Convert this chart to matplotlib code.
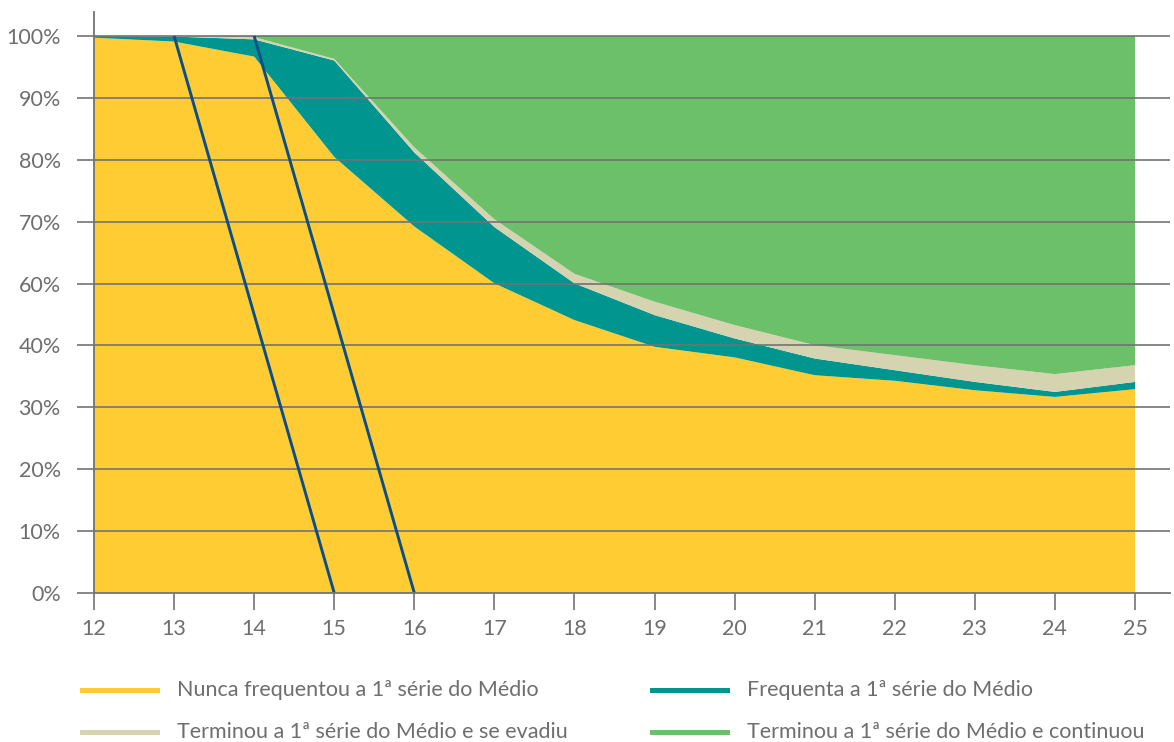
import matplotlib
matplotlib.use("Agg")
import matplotlib.pyplot as plt
from matplotlib.lines import Line2D
import numpy as np

plt.rcParams['font.family'] = ['Lato', 'DejaVu Sans']

# Ages and shares of each situation (percentage of the age group)
ages = [12, 13, 14, 15, 16, 17, 18, 19, 20, 21, 22, 23, 24, 25]
nunca = [99.7, 99.0, 96.3, 78.3, 65.8, 55.6, 49.0, 44.2, 42.3, 39.1, 38.1, 36.4, 35.2, 36.6]
frequenta = [0.3, 0.9, 3.1, 17.3, 13.3, 10.1, 6.6, 5.7, 3.4, 3.0, 1.9, 1.5, 0.9, 1.3]
evadiu = [0.0, 0.1, 0.4, 0.3, 0.9, 1.4, 1.7, 2.4, 2.4, 2.4, 2.7, 3.0, 3.2, 3.0]
continuou = [0.0, 0.0, 0.2, 4.1, 20.0, 32.9, 42.7, 47.7, 51.9, 55.5, 57.3, 59.1, 60.7, 59.1]

# Reference age lines (age, share)
line_a_x = [13, 15]
line_a_y = [100, 0]
line_b_x = [14, 16]
line_b_y = [100, 0]

series_labels = ["Nunca frequentou a 1ª série do Médio",
                 "Frequenta a 1ª série do Médio",
                 "Terminou a 1ª série do Médio e se evadiu",
                 "Terminou a 1ª série do Médio e continuou"]
ytick_labels = ["0%", "10%", "20%", "30%", "40%", "60%", "70%", "80%", "90%", "100%"]

c_yellow = "#FFCD33"
c_teal = "#00968F"
c_beige = "#D6D3B0"
c_green = "#6CC069"
c_navy = "#0A4F8A"
c_grid = "#737373"
c_text = "#6E6E6E"

fig = plt.figure(figsize=(11.74, 7.42), dpi=100)
ax = fig.add_axes([94 / 1174, 1 - 593 / 742, (1170 - 94) / 1174, (593 - 12) / 742])

ax.stackplot(ages, nunca, frequenta, evadiu, continuou,
             colors=[c_yellow, c_teal, c_beige, c_green], linewidth=0, zorder=1)

ax.plot(line_a_x, line_a_y, color=c_navy, lw=2.1, zorder=4, solid_capstyle='butt')
ax.plot(line_b_x, line_b_y, color=c_navy, lw=2.1, zorder=4, solid_capstyle='butt')

yticks = np.linspace(0, 100, len(ytick_labels))
ax.set_yticks(yticks)
ax.set_yticklabels(ytick_labels)
ax.set_xticks(ages)
ax.set_xticklabels([str(a) for a in ages])

ax.set_xlim(12, 25 + 35 / 80.08)
ax.set_ylim(0, 100 + 24 / 5.57)

for y in yticks[1:]:
    ax.axhline(y, color=c_grid, lw=1.2, zorder=3)

for side in ["top", "right"]:
    ax.spines[side].set_visible(False)
for side in ["left", "bottom"]:
    ax.spines[side].set_color(c_grid)
    ax.spines[side].set_linewidth(1.3)
    ax.spines[side].set_zorder(5)

ax.tick_params(axis='both', colors=c_grid, length=12, width=1.2,
               labelcolor=c_text, labelsize=15.5)
ax.tick_params(axis='y', pad=12)
ax.tick_params(axis='x', pad=7)

# Legend drawn as two columns below the axes
entries = [(82, 690, c_yellow, series_labels[0]),
           (652, 690, c_teal, series_labels[1]),
           (82, 732, c_beige, series_labels[2]),
           (652, 732, c_green, series_labels[3])]
H = 742.0
W = 1174.0
for x0, y0, col, lab in entries:
    fig.add_artist(Line2D([x0 / W, (x0 + 75) / W], [1 - y0 / H, 1 - y0 / H],
                          color=col, lw=3.6, transform=fig.transFigure))
    fig.text((x0 + 95) / W, 1 - y0 / H, lab, color=c_text, fontsize=15.5,
             ha='left', va='center')

fig.savefig("out.png", dpi=100)
